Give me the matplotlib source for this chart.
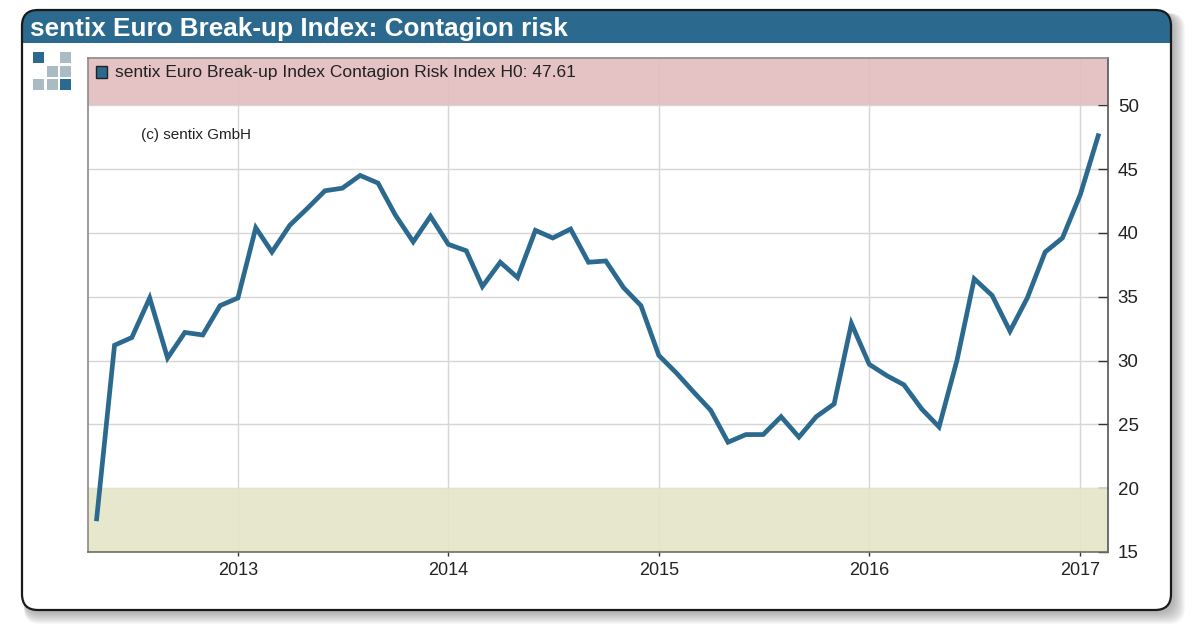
import pandas as pd
import matplotlib
matplotlib.use('Agg')
import matplotlib.pyplot as plt
import matplotlib.dates as mdates
from matplotlib.patches import FancyBboxPatch, Rectangle

plt.rcParams['font.family'] = ['Liberation Sans', 'DejaVu Sans']

W, H = 1193, 626

# monthly readings, May 2012 to Feb 2017
months = pd.date_range('2012-05-01', '2017-02-01', freq='MS')
contagion = [17.6, 31.2, 31.8, 34.9, 30.2, 32.2, 32.0, 34.3,
             34.9, 40.4, 38.5, 40.6, 41.9, 43.3, 43.5, 44.5, 43.9, 41.4, 39.3, 41.3,
             39.1, 38.6, 35.8, 37.7, 36.5, 40.2, 39.6, 40.3, 37.7, 37.8, 35.7, 34.3,
             30.4, 29.0, 27.6, 26.1, 23.6, 24.2, 24.2, 25.6, 24.0, 25.6, 26.6, 32.9,
             29.7, 28.8, 28.1, 26.2, 24.8, 30.0, 36.4, 35.1, 32.3, 34.9, 38.5, 39.6,
             43.0, 47.61]
year_ticks = pd.to_datetime(['2013-01-01', '2014-01-01', '2015-01-01', '2016-01-01', '2017-01-01'])
year_labels = ['2013', '2014', '2015', '2016', '2017']
y_ticks = [15, 20, 25, 30, 35, 40, 45, 50]

BLUE = '#2b6a8e'

fig = plt.figure(figsize=(W / 100, H / 100), dpi=100, facecolor='white')

# background layer in pixel coordinates (y pointing down)
bg = fig.add_axes([0, 0, 1, 1])
bg.set_xlim(0, W)
bg.set_ylim(H, 0)
bg.axis('off')

# soft shadow of the card, stacked so it fades outwards
for i in range(14, 0, -1):
    bg.add_patch(FancyBboxPatch((24, 13), 1147 + i, 597 + i,
                                boxstyle='round,pad=0,rounding_size=16',
                                fc='#707070', ec='none', alpha=0.05))
card = FancyBboxPatch((22, 10), 1149, 600, boxstyle='round,pad=0,rounding_size=16',
                      fc='white', ec='none')
bg.add_patch(card)
header = Rectangle((22, 10), 1149, 33, fc=BLUE, ec='none')
bg.add_patch(header)
header.set_clip_path(card)
bg.add_patch(FancyBboxPatch((22, 10), 1149, 600, boxstyle='round,pad=0,rounding_size=16',
                            fc='none', ec='#1a1a1a', lw=1.6))
bg.text(30, 29, 'sentix Euro Break-up Index: Contagion risk', color='white', fontsize=18.8,
        fontweight='bold', va='center', ha='left')

# logo squares
logo = [(33, 52, BLUE), (60, 52, '#a9bcc4'),
        (47, 66, '#a9bcc4'), (60, 66, '#a9bcc4'),
        (33, 79, '#a9bcc4'), (47, 79, '#a9bcc4'), (60, 79, BLUE)]
for lx, ly, c in logo:
    bg.add_patch(Rectangle((lx, ly), 11, 11, fc=c, ec='none'))

# main plot
left, right, top, bottom = 88, 1108, 58, 552
ax = fig.add_axes([left / W, 1 - bottom / H, (right - left) / W, (bottom - top) / H])
ax.set_xlim(mdates.date2num(pd.Timestamp('2012-04-16')), mdates.date2num(pd.Timestamp('2017-02-18')))
ax.set_ylim(15, 53.7)
ax.grid(True, color='#d6d6d6', lw=1, zorder=1)
ax.set_axisbelow(True)
ax.axhspan(50, 53.7, color='#e3bcbe', alpha=0.9, lw=0, zorder=2)
ax.axhspan(15, 20, color='#e5e5c8', alpha=0.9, lw=0, zorder=2)
ax.plot(months, contagion, color=BLUE, lw=3.4, solid_joinstyle='miter', zorder=3)

ax.set_xticks(year_ticks)
ax.set_xticklabels(year_labels)
ax.set_yticks(y_ticks)
ax.yaxis.tick_right()
ax.tick_params(axis='y', direction='in', length=7, width=1, color='#333333', labelsize=13.5, pad=7, labelcolor='#222222')
ax.tick_params(axis='x', direction='out', length=3, width=1, color='#333333', labelsize=13, pad=4, labelcolor='#222222')
for s in ax.spines.values():
    s.set_color('#8a8a8a')
    s.set_linewidth(1.2)
ax.spines['right'].set_color('#555555')
ax.spines['bottom'].set_color('#6f6f60')

# legend swatch and text
bg.set_zorder(0)
ax.set_zorder(1)
ax.add_patch(Rectangle((96 / W, 1 - 78 / H), 11 / W, 12 / H, transform=fig.transFigure,
                       fc=BLUE, ec='#222222', lw=1, clip_on=False, zorder=5))
ax.text(115, 72, 'sentix Euro Break-up Index Contagion Risk Index H0: 47.61', transform=bg.transData,
        fontsize=12.5, color='#222222', va='center', ha='left', zorder=5)
ax.text(141, 135, '(c) sentix GmbH', transform=bg.transData,
        fontsize=11, color='#222222', va='center', ha='left', zorder=5)

fig.savefig('out.png', dpi=100)
